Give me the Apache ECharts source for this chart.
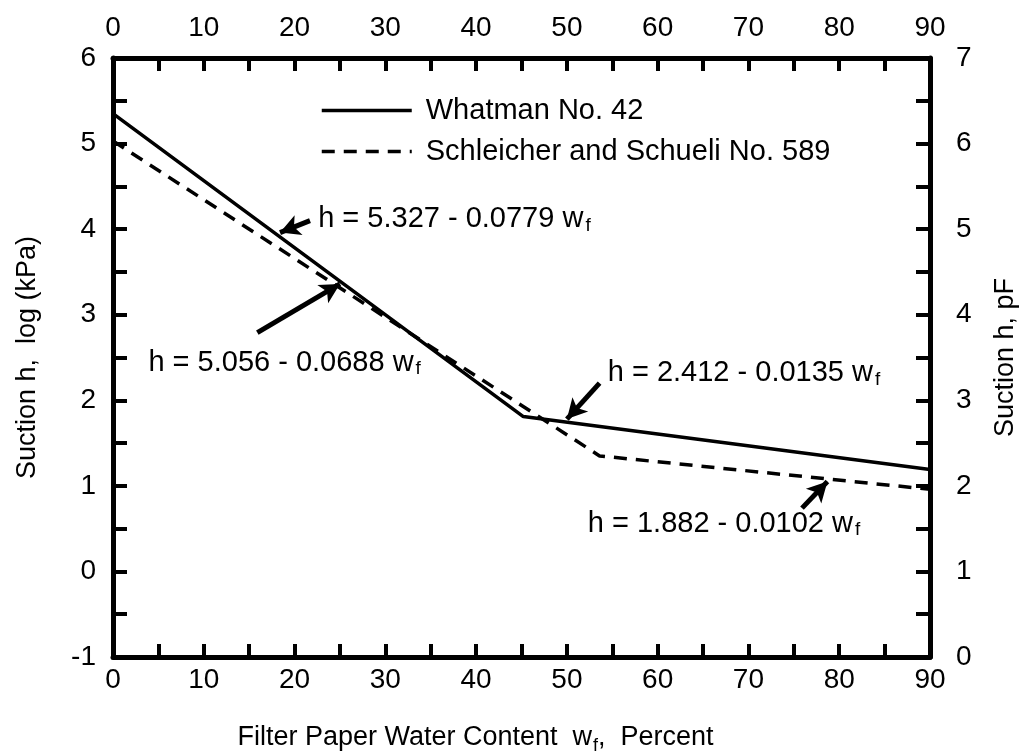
<!DOCTYPE html>
<html>
<head>
<meta charset="utf-8">
<script src="https://cdn.jsdelivr.net/npm/echarts@6/dist/echarts.min.js"></script>
<style>html,body{margin:0;padding:0;background:#fff}#c{width:1026px;height:755px}</style>
</head>
<body>
<div id="c"></div>
<script>
// ---- data ----
const seriesNames = ['Whatman No. 42', 'Schleicher and Schueli No. 589'];
const whatman = [[0, 5.35], [45.2, 1.81], [90, 1.19]];
const schleicher = [[0, 5.03], [53.6, 1.35], [90, 0.96]];
const xTicks = [0, 10, 20, 30, 40, 50, 60, 70, 80, 90];
const yLeftTicks = [-1, 0, 1, 2, 3, 4, 5, 6];
const yRightTicks = [0, 1, 2, 3, 4, 5, 6, 7];
// equation annotations: text (before subscript), label anchor, arrow tail, arrow tip (data units)
const eqTexts = ['h = 5.327 - 0.0779 w', 'h = 5.056 - 0.0688 w', 'h = 2.412 - 0.0135 w', 'h = 1.882 - 0.0102 w'];
const eqAnchors = [[22.6, 4.12], [3.9, 2.44], [54.5, 2.32], [52.3, 0.56]];
const arrowTails = [[21.7, 4.10], [15.9, 2.79], [53.6, 2.20], [75.9, 0.74]];
const arrowTips = [[18.4, 3.96], [25.0, 3.36], [50.0, 1.78], [78.7, 1.05]];

const FONT = 'Liberation Sans, Arial, Helvetica, sans-serif';
const TICK_FS = 28;
const TEXT_FS = 29;
const NAME_FS = 27;
const chart = echarts.init(document.getElementById('c'), null, {renderer: 'canvas'});

function xAxisDef(pos) {
  return {
    type: 'value', position: pos, min: 0, max: 90, interval: 5,
    axisLine: {show: true, onZero: false, lineStyle: {color: '#000', width: 5}},
    axisTick: {show: true, inside: true, length: 13, lineStyle: {color: '#000', width: 4}},
    axisLabel: {
      color: '#000', fontFamily: FONT, fontSize: TICK_FS, margin: pos === 'top' ? 16 : 9,
      formatter: v => xTicks.indexOf(v) >= 0 ? String(v) : ''
    },
    splitLine: {show: false}
  };
}
function yAxisDef(pos, min, max, ticks, name, gap) {
  return {
    type: 'value', position: pos, min: min, max: max, interval: 0.5,
    name: name, nameLocation: 'middle', nameGap: gap,
    nameTextStyle: {color: '#000', fontFamily: FONT, fontSize: NAME_FS},
    axisLine: {show: true, onZero: false, lineStyle: {color: '#000', width: 5}},
    axisTick: {show: true, inside: true, length: 14, lineStyle: {color: '#000', width: 4}},
    axisLabel: {
      color: '#000', fontFamily: FONT, fontSize: TICK_FS, margin: pos === 'left' ? 17 : 26,
      formatter: v => ticks.indexOf(v) >= 0 ? String(v) : ''
    },
    splitLine: {show: false}
  };
}

const rich = {
  m: {fontFamily: FONT, fontSize: TEXT_FS, color: '#000', lineHeight: 32},
  s: {fontFamily: FONT, fontSize: 19, color: '#000', padding: [22, 0, 0, 2], verticalAlign: 'bottom', lineHeight: 32}
};

const markPts = eqTexts.map((t, i) => ({
  coord: eqAnchors[i], value: t,
  symbol: 'circle', symbolSize: 0,
  label: {show: true, position: 'right', distance: 0, formatter: '{m|' + t + '}{s|f}', rich: rich}
}));
const markLns = arrowTails.map((t, i) => [{coord: t}, {coord: arrowTips[i]}]);

chart.setOption({
  animation: false,
  backgroundColor: '#fff',
  grid: {left: 113, right: 96, top: 58, bottom: 98, containLabel: false, outerBoundsMode: 'none'},
  legend: {
    orient: 'vertical', left: 315, top: 91, itemGap: 12, itemWidth: 90, itemHeight: 14,
    itemStyle: {opacity: 0},
    lineStyle: {width: 3.5},
    textStyle: {color: '#000', fontFamily: FONT, fontSize: TEXT_FS, padding: [0, 0, 0, 9]},
    data: seriesNames
  },
  xAxis: [
    Object.assign(xAxisDef('bottom'), {
      name: 'Filter Paper Water Content  w{s|f},  Percent', nameLocation: 'middle', nameGap: 64,
      nameTextStyle: {color: '#000', fontFamily: FONT, fontSize: NAME_FS, padding: [0, 92, 0, 0],
        rich: {s: {fontFamily: FONT, fontSize: 18, color: '#000', padding: [16, 0, 0, 1], verticalAlign: 'bottom'}}}
    }),
    xAxisDef('top')
  ],
  yAxis: [
    yAxisDef('left', -1, 6, yLeftTicks, 'Suction h,  log (kPa)', 72),
    yAxisDef('right', 0, 7, yRightTicks, 'Suction h, pF', 62)
  ],
  series: [
    {
      name: seriesNames[0], type: 'line', xAxisIndex: 0, yAxisIndex: 0, data: whatman,
      symbol: 'none', lineStyle: {color: '#000', width: 3.5, type: 'solid'}, itemStyle: {color: '#000'},
      z: 3,
      markPoint: {silent: true, data: markPts},
      markLine: {
        silent: true, symbol: ['none', 'arrow'], symbolSize: [16, 20],
        lineStyle: {color: '#000', width: 5, type: 'solid'},
        label: {show: false}, data: markLns
      }
    },
    {
      name: seriesNames[1], type: 'line', xAxisIndex: 0, yAxisIndex: 0, data: schleicher,
      symbol: 'none', lineStyle: {color: '#000', width: 3.5, type: [13, 9]}, itemStyle: {color: '#000'},
      z: 2
    }
  ]
});
</script>
</body>
</html>
